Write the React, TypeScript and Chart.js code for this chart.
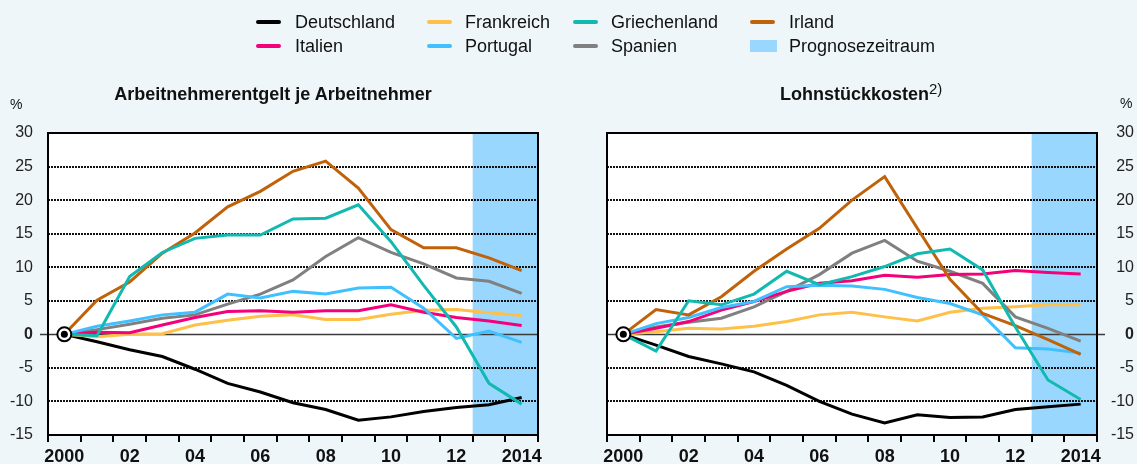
import React, { useEffect, useRef } from 'react';
import { Chart, registerables } from 'chart.js';
Chart.register(...registerables);

const FONT = '"Liberation Sans", Arial, Helvetica, sans-serif';

// ---------- data ----------
const years = ['2000', '2001', '2002', '2003', '2004', '2005', '2006', '2007', '2008', '2009', '2010', '2011', '2012', '2013', '2014'];
const xTickLabels = ['2000', '', '02', '', '04', '', '06', '', '08', '', '10', '', '12', '', '2014'];
const yMin = -15;
const yMax = 30;
const yStep = 5;
const forecastStart = '2013';

const countries = ['Deutschland', 'Frankreich', 'Griechenland', 'Irland', 'Italien', 'Portugal', 'Spanien'];
const countryColors = ['#000000', '#FFC04A', '#12B9B0', '#C0620A', '#F4007A', '#40C0FF', '#808080'];
const drawOrder = [6, 5, 0, 1, 3, 2, 4];
const forecastLabel = 'Prognosezeitraum';
const forecastColor = '#9AD7FE';

// Arbeitnehmerentgelt je Arbeitnehmer
const deLeft = [0, -1.1, -2.3, -3.3, -5.2, -7.3, -8.6, -10.2, -11.2, -12.8, -12.3, -11.5, -10.9, -10.5, -9.4];
const frLeft = [0, -0.35, 0, 0.1, 1.4, 2.1, 2.7, 2.9, 2.2, 2.2, 3.0, 3.6, 3.7, 3.2, 2.8];
const grLeft = [0, -0.2, 8.6, 12.2, 14.3, 14.8, 14.8, 17.2, 17.3, 19.3, 13.8, 7.3, 1.1, -7.3, -10.4];
const ieLeft = [0, 5.1, 7.8, 12.1, 15.1, 19.0, 21.3, 24.3, 25.8, 21.8, 15.6, 12.9, 12.9, 11.4, 9.5];
const itLeft = [0, 0.3, 0.25, 1.4, 2.5, 3.4, 3.5, 3.3, 3.5, 3.5, 4.4, 3.3, 2.5, 2.0, 1.3];
const ptLeft = [0, 1.2, 2.0, 2.9, 3.3, 6.0, 5.4, 6.4, 6.0, 6.9, 7.0, 3.9, -0.6, 0.5, -1.2];
const esLeft = [0, 0.7, 1.5, 2.4, 2.9, 4.5, 6.0, 8.1, 11.6, 14.4, 12.2, 10.5, 8.4, 7.9, 6.1];

// Lohnstückkosten
const deRight = [0, -1.6, -3.3, -4.4, -5.6, -7.6, -10.0, -11.9, -13.2, -12.0, -12.4, -12.3, -11.2, -10.8, -10.4];
const frRight = [0, 0.4, 0.9, 0.8, 1.2, 1.9, 2.9, 3.3, 2.6, 2.0, 3.3, 3.9, 4.1, 4.4, 4.4];
const grRight = [0, -2.5, 5.0, 4.4, 6.0, 9.4, 7.4, 8.6, 10.1, 12.0, 12.7, 9.6, 1.1, -6.8, -9.7];
const ieRight = [0, 3.7, 2.9, 5.6, 9.4, 12.7, 15.8, 20.0, 23.5, 15.8, 8.2, 3.1, 1.3, -0.8, -3.0];
const itRight = [0, 0.9, 1.9, 3.6, 4.9, 6.4, 7.6, 8.0, 8.8, 8.5, 8.9, 9.0, 9.5, 9.2, 9.0];
const ptRight = [0, 1.6, 2.5, 4.0, 4.9, 7.1, 7.3, 7.2, 6.7, 5.5, 4.6, 2.9, -2.0, -2.2, -2.8];
const esRight = [0, 1.1, 1.8, 2.4, 4.1, 6.4, 8.9, 12.1, 14.0, 10.9, 9.4, 7.6, 2.6, 0.9, -1.0];

const leftSeries = [deLeft, frLeft, grLeft, ieLeft, itLeft, ptLeft, esLeft];
const rightSeries = [deRight, frRight, grRight, ieRight, itRight, ptRight, esRight];

const leftTitle = 'Arbeitnehmerentgelt je Arbeitnehmer';
const rightTitle = 'Lohnstückkosten';
const rightTitleNote = '2)';
const unitLabel = '%';

// ---------- chart ----------
function makeChart(canvas: HTMLCanvasElement, series: number[][], side: 'left' | 'right') {
  const deco = {
    id: 'panelDeco',
    beforeDatasetsDraw(chart: any) {
      const { ctx, chartArea: a, scales } = chart;
      const x = scales.x;
      const y = scales.y;
      ctx.save();
      ctx.fillStyle = '#ffffff';
      ctx.fillRect(a.left, a.top, a.right - a.left, a.bottom - a.top);
      const step = x.getPixelForValue(1) - x.getPixelForValue(0);
      const fi = years.indexOf(forecastStart);
      const fs = x.getPixelForValue(fi) - step / 2;
      ctx.fillStyle = forecastColor;
      ctx.fillRect(fs, a.top, a.right - fs, a.bottom - a.top);
      ctx.strokeStyle = '#111111';
      ctx.lineWidth = 2;
      ctx.setLineDash([2, 1]);
      for (const t of y.ticks) {
        if (t.value === 0 || t.value === yMin || t.value === yMax) continue;
        const py = Math.round(y.getPixelForValue(t.value));
        ctx.beginPath();
        ctx.moveTo(a.left, py);
        ctx.lineTo(a.right, py);
        ctx.stroke();
      }
      ctx.setLineDash([]);
      const z = Math.round(y.getPixelForValue(0)) + 0.5;
      ctx.strokeStyle = '#3a3a3a';
      ctx.lineWidth = 1.5;
      ctx.beginPath();
      if (side === 'left') {
        ctx.moveTo(a.left - 8, z);
        ctx.lineTo(a.right, z);
      } else {
        ctx.moveTo(a.left, z);
        ctx.lineTo(a.right + 8, z);
      }
      ctx.stroke();
      ctx.restore();
    },
    afterDatasetsDraw(chart: any) {
      const { ctx, chartArea: a, scales } = chart;
      const x = scales.x;
      const y = scales.y;
      ctx.save();
      ctx.strokeStyle = '#000';
      ctx.lineWidth = 2;
      ctx.strokeRect(a.left, a.top, a.right - a.left, a.bottom - a.top);
      const step = x.getPixelForValue(1) - x.getPixelForValue(0);
      const first = x.getPixelForValue(0) - step / 2;
      for (let i = 0; i <= years.length; i++) {
        const px = Math.round(first + i * step);
        ctx.beginPath();
        ctx.moveTo(px, a.bottom);
        ctx.lineTo(px, a.bottom + 7);
        ctx.stroke();
      }
      const cx = x.getPixelForValue(0);
      const cy = y.getPixelForValue(0);
      ctx.beginPath();
      ctx.arc(cx, cy, 7, 0, Math.PI * 2);
      ctx.fillStyle = '#fff';
      ctx.fill();
      ctx.lineWidth = 2;
      ctx.strokeStyle = '#000';
      ctx.stroke();
      ctx.beginPath();
      ctx.arc(cx, cy, 3.5, 0, Math.PI * 2);
      ctx.fillStyle = '#000';
      ctx.fill();
      ctx.restore();
    },
  };

  return new Chart(canvas, {
    type: 'line',
    data: {
      labels: years,
      datasets: countries.map((c, i) => ({
        label: c,
        data: series[i],
        borderColor: countryColors[i],
        backgroundColor: countryColors[i],
        borderWidth: 3,
        pointRadius: 0,
        tension: 0,
        fill: false,
        order: drawOrder[i],
      })),
    },
    options: {
      responsive: false,
      maintainAspectRatio: false,
      animation: false,
      events: [],
      layout: {
        padding: side === 'left'
          ? { left: 0, right: 22, top: 133, bottom: 0 }
          : { left: 47, right: 3, top: 133, bottom: 0 },
      },
      plugins: {
        legend: { display: false },
        tooltip: { enabled: false },
        title: { display: false },
      },
      scales: {
        x: {
          type: 'category',
          offset: true,
          grid: { display: false, drawTicks: false },
          border: { display: false },
          ticks: {
            autoSkip: false,
            maxRotation: 0,
            minRotation: 0,
            padding: 11,
            color: '#111',
            font: { family: FONT, size: 18, weight: 'bold' },
            callback: (_v: any, i: number) => xTickLabels[i],
          },
          afterFit: (s: any) => { s.height = 29; },
        },
        y: {
          position: side,
          min: yMin,
          max: yMax,
          grid: { display: false, drawTicks: false },
          border: { display: false },
          ticks: {
            stepSize: yStep,
            padding: side === 'left' ? 15 : 14,
            crossAlign: side === 'left' ? 'near' : 'far',
            color: '#222',
            font: (c: any) => ({
              family: FONT,
              size: 16,
              weight: c.tick && c.tick.value === 0 ? 'bold' : 'normal',
            }),
          },
          afterFit: (s: any) => { s.width = side === 'left' ? 48 : 37; },
        },
      },
    },
    plugins: [deco],
  } as any);
}

const legendCols = [[256, 295], [427, 465], [573, 611], [750, 789]];
const legendRows = [21.7, 46];

export default function App() {
  const leftRef = useRef<HTMLCanvasElement>(null);
  const rightRef = useRef<HTMLCanvasElement>(null);

  useEffect(() => {
    const c1 = makeChart(leftRef.current!, leftSeries, 'left');
    const c2 = makeChart(rightRef.current!, rightSeries, 'right');
    return () => {
      c1.destroy();
      c2.destroy();
    };
  }, []);

  const legendEntries: { label: string; color: string; box: boolean }[] = [
    { label: countries[0], color: countryColors[0], box: false },
    { label: countries[1], color: countryColors[1], box: false },
    { label: countries[2], color: countryColors[2], box: false },
    { label: countries[3], color: countryColors[3], box: false },
    { label: countries[4], color: countryColors[4], box: false },
    { label: countries[5], color: countryColors[5], box: false },
    { label: countries[6], color: countryColors[6], box: false },
    { label: forecastLabel, color: forecastColor, box: true },
  ];

  return (
    <div
      style={{
        position: 'absolute',
        left: 0,
        top: 0,
        width: 1137,
        height: 464,
        background: '#EEF6FA',
        fontFamily: FONT,
        overflow: 'hidden',
        color: '#111',
      }}
    >
      <canvas ref={leftRef} width={560} height={464} style={{ position: 'absolute', left: 0, top: 0 }} />
      <canvas ref={rightRef} width={577} height={464} style={{ position: 'absolute', left: 560, top: 0 }} />

      {legendEntries.map((e, i) => {
        const col = legendCols[i % 4];
        const rowY = legendRows[Math.floor(i / 4)];
        return (
          <React.Fragment key={e.label}>
            {e.box ? (
              <div style={{ position: 'absolute', left: col[0], top: rowY - 6, width: 27, height: 12, background: e.color }} />
            ) : (
              <div style={{ position: 'absolute', left: col[0], top: rowY - 2, width: 25, height: 4, borderRadius: 2, background: e.color }} />
            )}
            <div
              style={{
                position: 'absolute',
                left: col[1],
                top: rowY - 11,
                lineHeight: '22px',
                fontSize: 18,
                whiteSpace: 'nowrap',
              }}
            >
              {e.label}
            </div>
          </React.Fragment>
        );
      })}

      <div style={{ position: 'absolute', left: 0, width: 546, top: 83, lineHeight: '22px', fontSize: 18, fontWeight: 'bold', textAlign: 'center', whiteSpace: 'nowrap' }}>
        {leftTitle}
      </div>
      <div style={{ position: 'absolute', left: 780, top: 83, lineHeight: '22px', fontSize: 18, fontWeight: 'bold', whiteSpace: 'nowrap' }}>
        {rightTitle}
        <span style={{ fontSize: 15, fontWeight: 'normal', position: 'relative', top: -6 }}>{rightTitleNote}</span>
      </div>
      <div style={{ position: 'absolute', left: 10, top: 95, lineHeight: '18px', fontSize: 14 }}>{unitLabel}</div>
      <div style={{ position: 'absolute', left: 1120, top: 94, lineHeight: '18px', fontSize: 14 }}>{unitLabel}</div>
    </div>
  );
}
